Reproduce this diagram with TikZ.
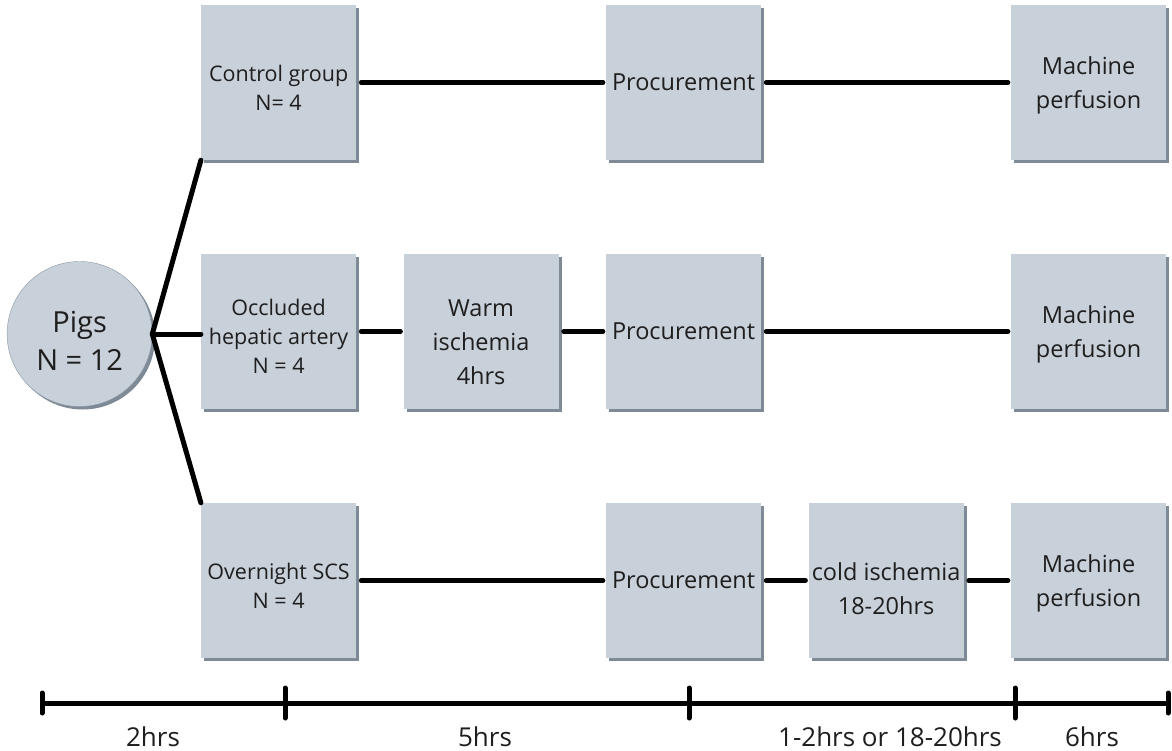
\documentclass[tikz,border=0pt]{standalone}
\usepackage{fontspec}
\setmainfont{Open Sans}
\usetikzlibrary{matrix,calc,shadows}
\definecolor{boxfill}{HTML}{C8D0DA}
\definecolor{boxshade}{HTML}{7E8A96}
\definecolor{boxline}{HTML}{8A96A2}
\definecolor{boxtext}{HTML}{1E1E1E}

\begin{document}
\begin{tikzpicture}[x=1pt,y=-1pt,
  stagebox/.style={rectangle,fill=boxfill,inner sep=0pt,
    minimum width=155pt,minimum height=155pt,
    drop shadow={shadow xshift=3pt,shadow yshift=-3pt,fill=boxshade,opacity=1}},
  words/.style={text=boxtext,align=center,inner sep=0pt},
  groupbox/.style={stagebox,label={[words,font=\fontsize{21.5}{29}\selectfont,yshift=-5pt]center:{#1}}},
  taskbox/.style 2 args={stagebox,label={[words,font=\fontsize{23.5}{34}\selectfont,yshift=#2]center:{#1}}},
  herdnode/.style={circle,fill=boxfill,draw=boxline,minimum size=145pt,inner sep=0pt,
    xshift=3.5pt,yshift=-2.5pt,
    label={[words,font=\fontsize{29}{38}\selectfont,yshift=-7pt]center:{#1}},
    drop shadow={shadow xshift=3pt,shadow yshift=-3pt,fill=boxshade,opacity=1}},
  link/.style={line width=5pt,line cap=round},
  timelabel/.style={text=boxtext,font=\fontsize{26}{30}\selectfont}]
\useasboundingbox (0,0) rectangle (1172,751);
\matrix[column sep={202.5pt,between origins},row
sep={249pt,between origins}] (s) at (586.5,331.5)
{
 & \node[groupbox={Control group\\N= 4}] (ctl) {}; & & \node[taskbox={Procurement}{0pt}] (proc1) {}; & & \node[taskbox={Machine\\perfusion}{-3pt}] (mp1) {}; \\
%
\node[herdnode={Pigs\\N = 12}] (pigs) {}; & \node[groupbox={Occluded\\hepatic artery\\N = 4}] (occ) {}; & \node[taskbox={Warm\\ischemia\\4hrs}{-11pt}] (warm) {}; & \node[taskbox={Procurement}{0pt}] (proc2) {}; & & \node[taskbox={Machine\\perfusion}{-3pt}] (mp2) {}; \\
%
 & \node[groupbox={Overnight SCS\\N = 4}] (ovn) {}; & & \node[taskbox={Procurement}{0pt}] (proc3) {}; & \node[taskbox={cold ischemia\\18-20hrs}{-8pt}] (cold) {}; & \node[taskbox={Machine\\perfusion}{-3pt}] (mp3) {}; \\
};
\draw[link] (pigs.east) edge (ctl.south west)
            (pigs.east) edge (pigs.east -| occ.west)
            (pigs.east) edge (ovn.north west)
;
\draw[link,shorten <=5pt,shorten >=3pt]
            (ctl) edge (proc1)
            (proc1) edge (mp1)
            (occ) edge (warm)
            (warm) edge (proc2)
            (proc2) edge (mp2)
            (ovn) edge (proc3)
            (proc3) edge (cold)
            (cold) edge (mp3)
;
% time line
\coordinate (t0) at (42,703);
\coordinate (t1) at (285,703);
\coordinate (t2) at (689,703);
\coordinate (t3) at (1015,703);
\coordinate (t4) at (1168,703);
\draw[link,line cap=butt] (t0) -- (t4);
\foreach \t in {t0,t4}
  \draw[link] ($(\t)+(0,-10)$) -- ($(\t)+(0,10)$);
\foreach \t in {t1,t2,t3}
  \draw[link] ($(\t)+(0,-15)$) -- ($(\t)+(0,15)$);
\node[timelabel] (d1) at (153,737) {2hrs};
\node[timelabel] (d2) at (485,737) {5hrs};
\node[timelabel] (d3) at (890,737) {1-2hrs or 18-20hrs};
\node[timelabel] (d4) at (1092,737) {6hrs};
\end{tikzpicture}
\end{document}
